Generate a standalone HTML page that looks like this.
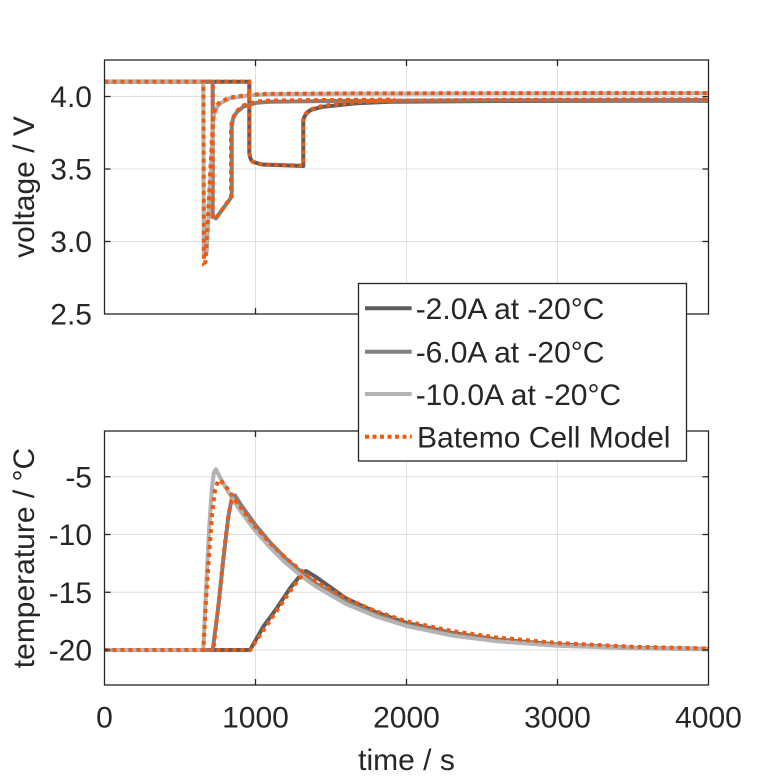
<!DOCTYPE html>
<html>
<head>
<meta charset="utf-8">
<style>
html,body{margin:0;padding:0;background:#fff;}
svg{display:block;}
text{font-family:"Liberation Sans",Arial,sans-serif;font-size:30px;fill:#262626;}
</style>
</head>
<body>
<svg width="781" height="781" viewBox="0 0 781 781" xmlns="http://www.w3.org/2000/svg">
<rect x="0" y="0" width="781" height="781" fill="#fff"/>

<!-- ===== TOP AXES ===== -->
<g stroke="#dfdfdf" stroke-width="1" fill="none">
  <line x1="255.5" y1="60" x2="255.5" y2="314"/>
  <line x1="406.5" y1="60" x2="406.5" y2="314"/>
  <line x1="557.5" y1="60" x2="557.5" y2="314"/>
  <line x1="104.5" y1="96.5" x2="708.5" y2="96.5"/>
  <line x1="104.5" y1="169" x2="708.5" y2="169"/>
  <line x1="104.5" y1="241.5" x2="708.5" y2="241.5"/>
</g>

<g fill="none" stroke-width="4" stroke-linejoin="round" stroke-linecap="butt">
  <!-- -2A -->
  <path stroke="#5c5c5c" d="M104.5,81.7 L249.3,81.7 L249.3,153.3 C250,158 251,161 253.3,162 L261.7,164.5 L303.3,166 L303.3,120 C305,114 308,111 312,109.5 L323.3,106.7 L356.7,103.3 L390,101.7 L500,101 L708.5,100.7"/>
  <!-- -6A -->
  <path stroke="#808080" d="M104.5,81.7 L212.7,81.7 L212.7,216.7 L216,218.3 L231.7,196.7 L231.7,126.7 C232.5,119 234,115.5 237,112 L243.3,106.7 L256.7,102.7 L270,101.7 L350,100.8 L500,100.3 L708.5,100"/>
  <!-- -10A -->
  <path stroke="#b3b3b3" d="M104.5,81.7 L203.3,81.7 L203.8,255 L206.7,252 L213.5,118 C215,110 217,106 221,103 L230,98.3 L250,95.3 L270,94.3 L350,93.8 L500,93.5 L708.5,93.3"/>
</g>
<g fill="none" stroke="#f15a0e" stroke-width="4" stroke-dasharray="4 4" stroke-linecap="butt">
  <path d="M104.5,81.5 L203.3,81.5 L204,263 L205.5,262 L213,120 C214.5,108 217,104 221,101.5 L230,97.5 L250,94.5 L270,93.8 L350,93.3 L500,93.1 L708.5,93"/>
  <path d="M104.5,81.5 L212.7,81.5 L212.7,217 L216,218 L231,197 L231,127 C232,119 234,115 237,111 L243.3,105.5 L256.7,101.5 L270,100.5 L350,99.8 L395,99.6"/>
  <path d="M104.5,81.5 L249.3,81.5 L249.3,153 C250,158 251,161 254,162.5 L262,164.5 L303.3,165.5 L303.3,120 C305,113 308,110.5 312,109 L323.3,105.7 L356.7,102.3 L390,100.7 L500,99.8 L708.5,99.3"/>
</g>

<g stroke="#262626" stroke-width="1.3" fill="none">
  <rect x="104.5" y="60" width="604" height="254"/>
  <line x1="104.5" y1="96.5" x2="110.5" y2="96.5"/>
  <line x1="104.5" y1="169" x2="110.5" y2="169"/>
  <line x1="104.5" y1="241.5" x2="110.5" y2="241.5"/>
  <line x1="708.5" y1="96.5" x2="702.5" y2="96.5"/>
  <line x1="708.5" y1="169" x2="702.5" y2="169"/>
  <line x1="708.5" y1="241.5" x2="702.5" y2="241.5"/>
  <line x1="255.5" y1="314" x2="255.5" y2="308"/>
  <line x1="406.5" y1="314" x2="406.5" y2="308"/>
  <line x1="557.5" y1="314" x2="557.5" y2="308"/>
  <line x1="255.5" y1="60" x2="255.5" y2="66"/>
  <line x1="406.5" y1="60" x2="406.5" y2="66"/>
  <line x1="557.5" y1="60" x2="557.5" y2="66"/>
</g>
<g text-anchor="end">
  <text x="92" y="107">4.0</text>
  <text x="92" y="179.5">3.5</text>
  <text x="92" y="252">3.0</text>
  <text x="92" y="324.5">2.5</text>
</g>
<text x="0" y="0" text-anchor="middle" transform="translate(34,187) rotate(-90)">voltage / V</text>

<!-- ===== BOTTOM AXES ===== -->
<g stroke="#dfdfdf" stroke-width="1" fill="none">
  <line x1="255.5" y1="431" x2="255.5" y2="685"/>
  <line x1="406.5" y1="431" x2="406.5" y2="685"/>
  <line x1="557.5" y1="431" x2="557.5" y2="685"/>
  <line x1="104.5" y1="476.75" x2="708.5" y2="476.75"/>
  <line x1="104.5" y1="534.5" x2="708.5" y2="534.5"/>
  <line x1="104.5" y1="592.25" x2="708.5" y2="592.25"/>
  <line x1="104.5" y1="650" x2="708.5" y2="650"/>
</g>

<g fill="none" stroke-width="4" stroke-linejoin="round">
  <path stroke="#5c5c5c" d="M104.5,650 L250,650 L263.3,626.7 L276.7,608.3 L290,588.3 L303.3,571.7 L306,571 L316.7,577.5 L330,587 L346.1,598.5 L376.3,612.5 L406.5,623 L451.8,633 L497.1,639.5 L557.5,644.5 L633,647.8 L708.5,649"/>
  <path stroke="#808080" d="M104.5,650 L212.7,650 L218.3,606.7 L223.3,560 L228.3,517 L231.7,499 L235,495.5 L240.4,504 L255.5,525 L270.6,543 L285.7,558.5 L303.4,574 L315.9,583.5 L346.1,601.5 L376.3,614.5 L406.5,624.5 L451.8,634 L497.1,640.3 L557.5,645 L633,648 L708.5,649.2"/>
  <path stroke="#b3b3b3" d="M104.5,650 L203.3,650 L206,590 L209,530 L212,487 L214,472 L216,469.2 L219.3,476 L225.3,487 L233.3,500 L240.4,511 L255.5,531 L270.6,548 L285.7,563 L303.4,577.5 L315.9,586.5 L346.1,604 L376.3,616.5 L406.5,626 L451.8,635.5 L497.1,641.3 L557.5,645.8 L633,648.3 L708.5,649.3"/>
</g>
<g fill="none" stroke="#f15a0e" stroke-width="4" stroke-dasharray="4 4">
  <path d="M104.5,650 L203.3,650 L206,600 L209,556 L212,515 L215,490 L218.3,480 L222,482 L225.3,485.5 L233.3,497 L240.4,507 L255.5,527 L270.6,543.5 L285.7,558 L303.4,572.5 L315.9,581.5 L346.1,598.5 L376.3,611.5 L406.5,621.3 L451.8,631 L497.1,637.5 L557.5,643 L633,646.8 L708.5,648.5"/>
  <path d="M104.5,650 L213.3,650 L219,600 L225,542 L229,512 L231.7,500.5 L234,499 L240,506"/>
  <path d="M104.5,650 L250,650 L265,628 L280,606 L293,587 L300,578 L304,574"/>
</g>

<g stroke="#262626" stroke-width="1.3" fill="none">
  <rect x="104.5" y="431" width="604" height="254"/>
  <line x1="104.5" y1="476.75" x2="110.5" y2="476.75"/>
  <line x1="104.5" y1="534.5" x2="110.5" y2="534.5"/>
  <line x1="104.5" y1="592.25" x2="110.5" y2="592.25"/>
  <line x1="104.5" y1="650" x2="110.5" y2="650"/>
  <line x1="708.5" y1="476.75" x2="702.5" y2="476.75"/>
  <line x1="708.5" y1="534.5" x2="702.5" y2="534.5"/>
  <line x1="708.5" y1="592.25" x2="702.5" y2="592.25"/>
  <line x1="708.5" y1="650" x2="702.5" y2="650"/>
  <line x1="255.5" y1="685" x2="255.5" y2="679"/>
  <line x1="406.5" y1="685" x2="406.5" y2="679"/>
  <line x1="557.5" y1="685" x2="557.5" y2="679"/>
  <line x1="255.5" y1="431" x2="255.5" y2="437"/>
  <line x1="406.5" y1="431" x2="406.5" y2="437"/>
  <line x1="557.5" y1="431" x2="557.5" y2="437"/>
</g>
<g text-anchor="end">
  <text x="92" y="487.3">-5</text>
  <text x="92" y="545">-10</text>
  <text x="92" y="602.8">-15</text>
  <text x="92" y="660.5">-20</text>
</g>
<g text-anchor="middle">
  <text x="104.5" y="727.7">0</text>
  <text x="255.5" y="727.7">1000</text>
  <text x="406.5" y="727.7">2000</text>
  <text x="557.5" y="727.7">3000</text>
  <text x="708.5" y="727.7">4000</text>
  <text x="406.5" y="770">time / s</text>
</g>
<text x="0" y="0" text-anchor="middle" transform="translate(34,558) rotate(-90)">temperature / °C</text>

<!-- ===== LEGEND ===== -->
<rect x="358.5" y="283.5" width="328" height="177.5" fill="#fff" stroke="#262626" stroke-width="1.3"/>
<g stroke-width="4" fill="none">
  <line x1="365" y1="308.3" x2="411.7" y2="308.3" stroke="#5c5c5c"/>
  <line x1="365" y1="351.7" x2="411.7" y2="351.7" stroke="#808080"/>
  <line x1="365" y1="394" x2="411.7" y2="394" stroke="#b3b3b3"/>
  <line x1="365" y1="436.7" x2="411.7" y2="436.7" stroke="#f15a0e" stroke-dasharray="4 3.5"/>
</g>
<g>
  <text x="415.7" y="319.2">-2.0A at -20°C</text>
  <text x="415.7" y="362.5">-6.0A at -20°C</text>
  <text x="415.7" y="404.8">-10.0A at -20°C</text>
  <text x="417" y="447.5">Batemo Cell Model</text>
</g>
</svg>
</body>
</html>
